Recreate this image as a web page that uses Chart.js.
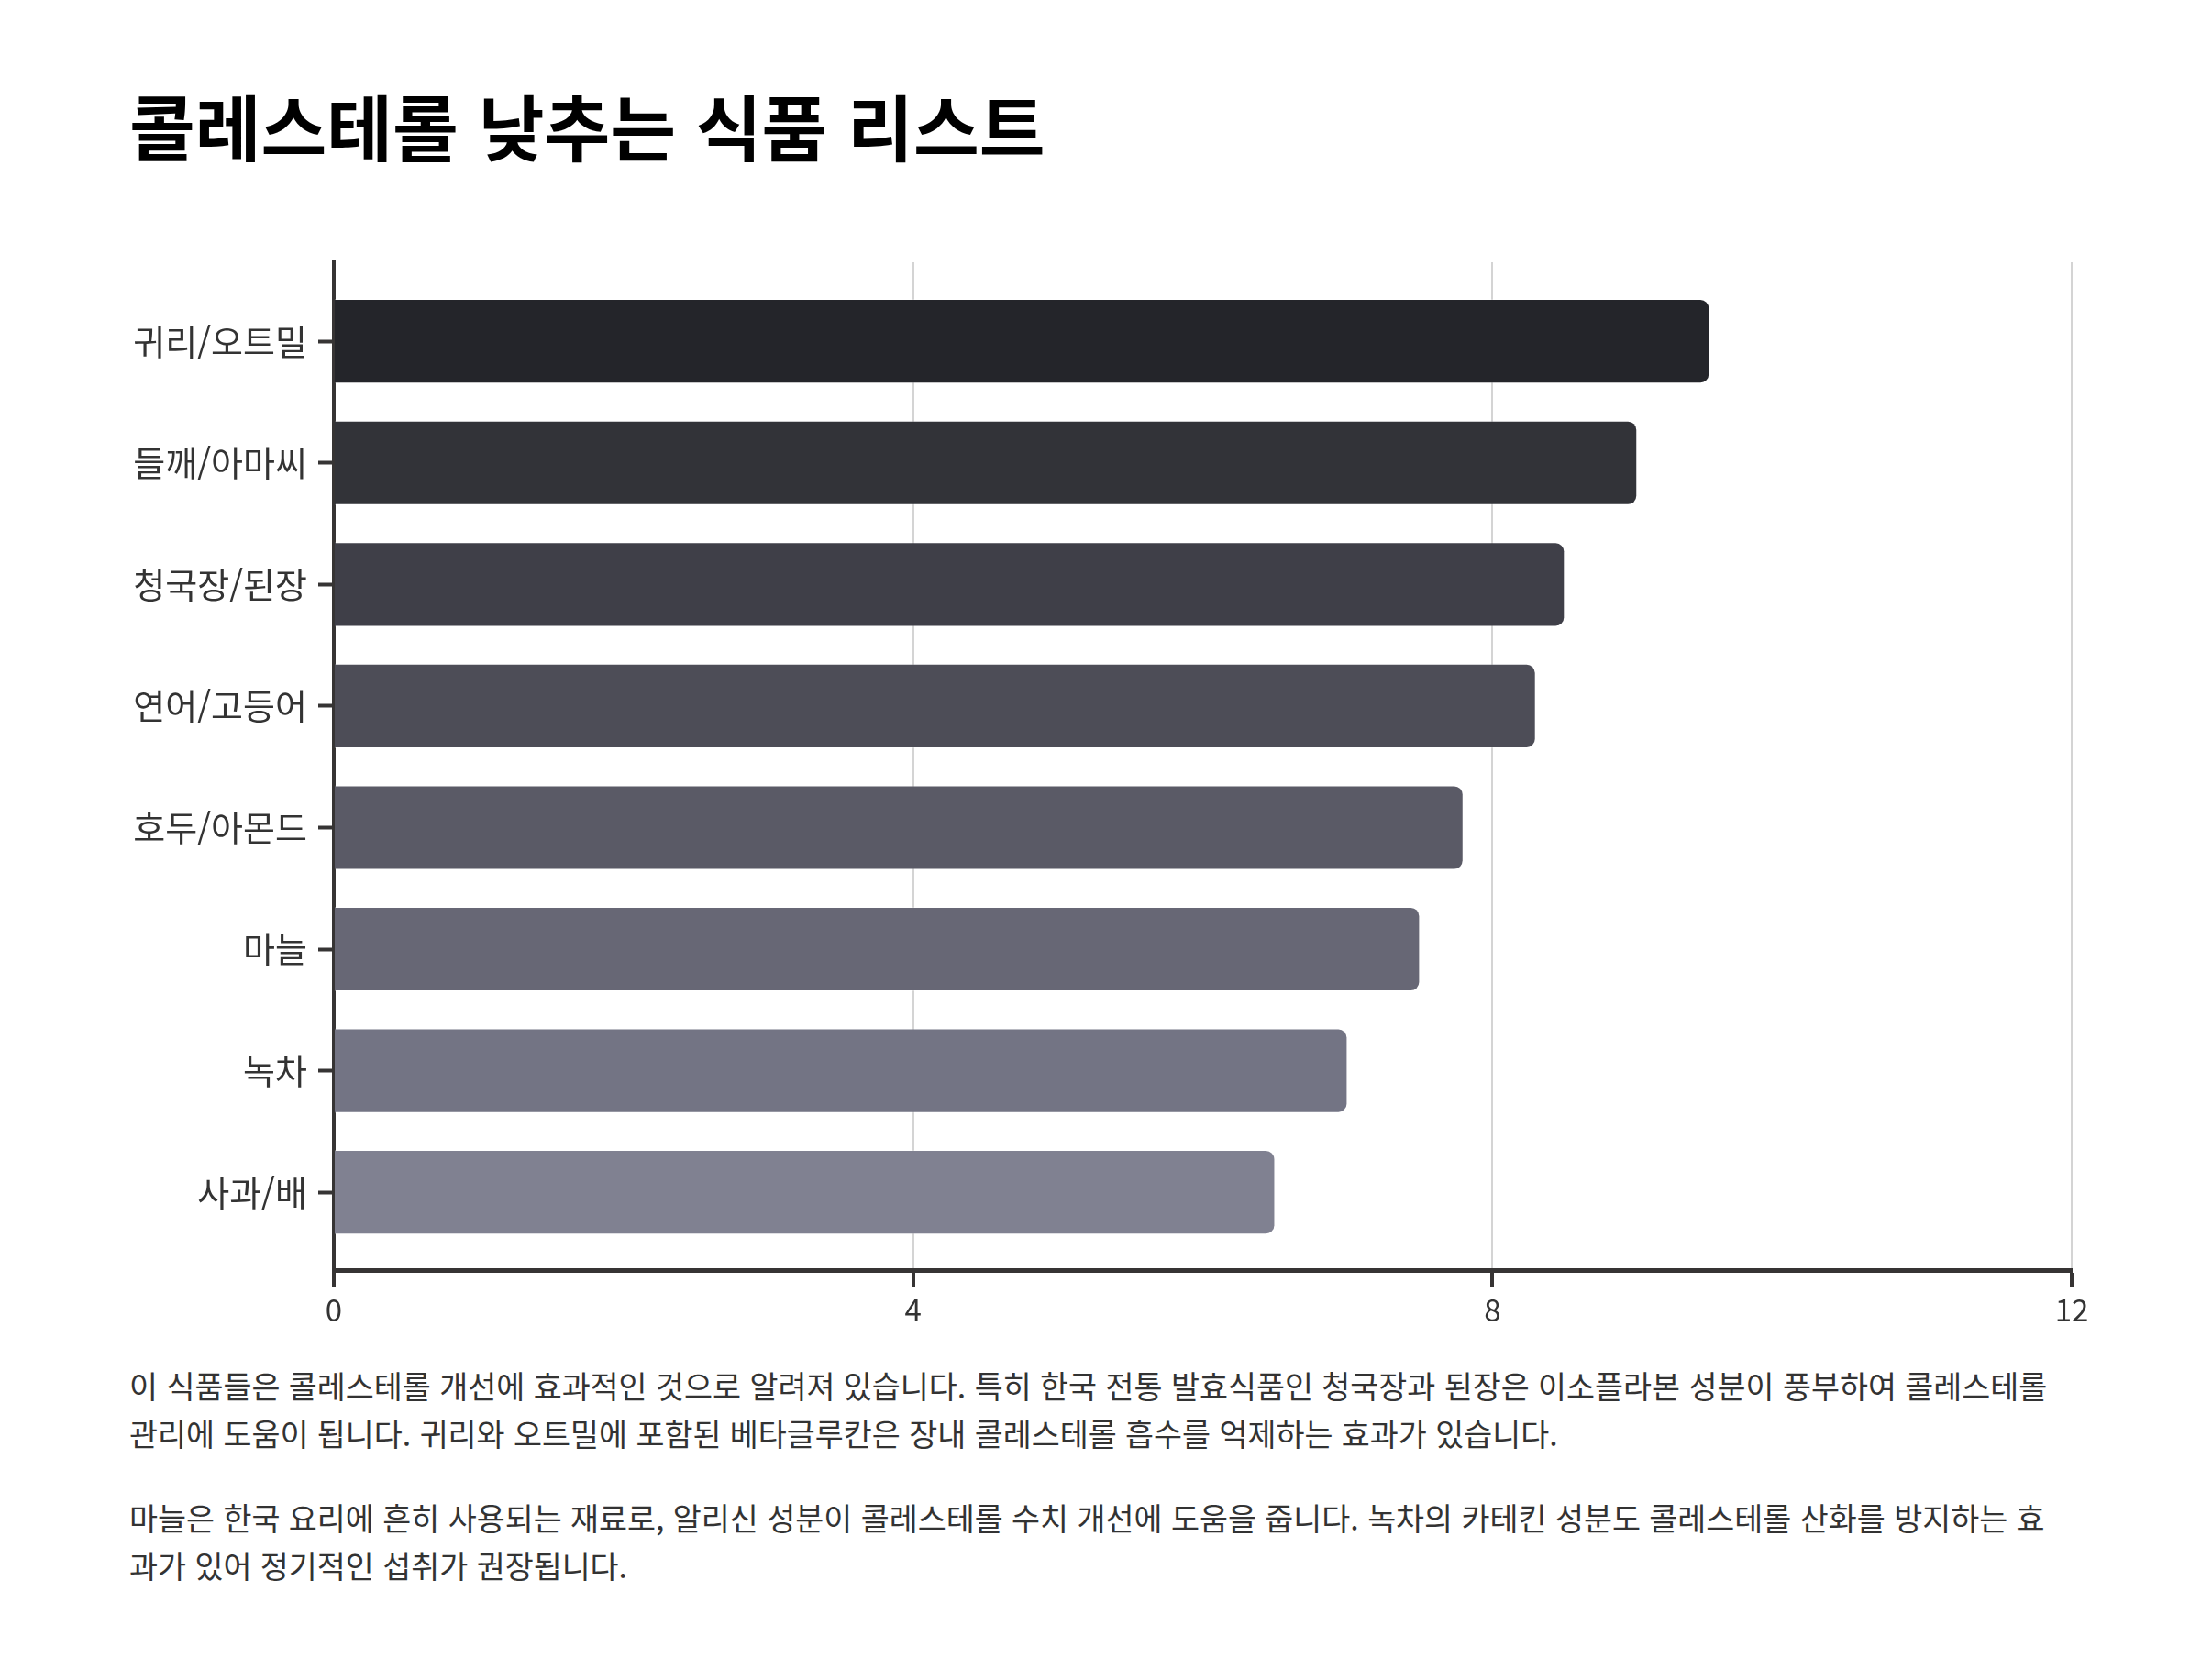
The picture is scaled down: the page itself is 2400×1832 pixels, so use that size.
<!DOCTYPE html>
<html lang="ko">
<head>
<meta charset="utf-8">
<script src="https://cdn.jsdelivr.net/npm/chart.js@4.4.1/dist/chart.umd.min.js"></script>
<style>
  html, body { margin: 0; padding: 0; background: #ffffff; }
  body { width: 2400px; height: 1832px; position: relative; font-family: "Noto Sans CJK KR", "Noto Sans", sans-serif; }
  h1 { position: absolute; left: 141px; top: 93px; margin: 0; font-size: 78px; line-height: 86px; font-weight: 700; color: #000; white-space: nowrap; }
  #chartBox { position: absolute; left: 0; top: 240px; width: 2400px; height: 1220px; }
  .notes { position: absolute; left: 141px; top: 1485px; width: 2112px; color: #333; font-size: 33.7px; line-height: 52px; }
  .notes p { margin: 0 0 40px 0; }
</style>
</head>
<body>
<h1>콜레스테롤 낮추는 식품 리스트</h1>
<div id="chartBox"><canvas id="foodChart"></canvas></div>
<div class="notes">
  <p>이 식품들은 콜레스테롤 개선에 효과적인 것으로 알려져 있습니다. 특히 한국 전통 발효식품인 청국장과 된장은 이소플라본 성분이 풍부하여 콜레스테롤 관리에 도움이 됩니다. 귀리와 오트밀에 포함된 베타글루칸은 장내 콜레스테롤 흡수를 억제하는 효과가 있습니다.</p>
  <p>마늘은 한국 요리에 흔히 사용되는 재료로, 알리신 성분이 콜레스테롤 수치 개선에 도움을 줍니다. 녹차의 카테킨 성분도 콜레스테롤 산화를 방지하는 효과가 있어 정기적인 섭취가 권장됩니다.</p>
</div>
<script>
// data
const foods = ['귀리/오트밀', '들깨/아마씨', '청국장/된장', '연어/고등어', '호두/아몬드', '마늘', '녹차', '사과/배'];
const scores = [9.5, 9.0, 8.5, 8.3, 7.8, 7.5, 7.0, 6.5];
const xTicks = [0, 4, 8, 12];

// bar colours, dark to light
const barColors = ['#24252a', '#323338', '#3f3f48', '#4d4d57', '#5a5a66', '#676775', '#737484', '#808191'];

const fontFamily = '"Noto Sans CJK KR", "Noto Sans", sans-serif';
const axisColor = '#363434';

function initializeFoodChart() {
    const ctx = document.getElementById('foodChart').getContext('2d');

    const data = {
        datasets: [{
            label: '점수',
            data: scores.map((v, i) => ({ x: v, y: i })),
            backgroundColor: barColors,
            borderColor: 'rgba(255, 255, 255, 0.25)',
            borderWidth: 1,
            borderRadius: 10,
            borderSkipped: 'start',
            categoryPercentage: 1,
            barPercentage: 0.695
        }]
    };

    const options = {
        indexAxis: 'y',
        responsive: true,
        maintainAspectRatio: false,
        animation: false,
        layout: { padding: { top: 46, right: 141, left: 0, bottom: 0 } },
        scales: {
            x: {
                type: 'linear',
                min: 0,
                max: 12,
                afterBuildTicks: (scale) => { scale.ticks = xTicks.map(v => ({ value: v })); },
                afterFit: (scale) => { scale.height = 75; },
                grid: {
                    color: '#d4d4d4',
                    lineWidth: 2,
                    drawTicks: true,
                    tickLength: 18,
                    tickWidth: 4,
                    tickColor: axisColor
                },
                border: { display: true, color: axisColor, width: 5 },
                ticks: {
                    color: '#333',
                    padding: 6,
                    font: { family: fontFamily, size: 33 }
                }
            },
            y: {
                type: 'linear',
                reverse: true,
                offset: false,
                min: -0.65,
                max: foods.length - 1 + 0.64,
                afterBuildTicks: (scale) => { scale.ticks = foods.map((f, i) => ({ value: i })); },
                afterFit: (scale) => { scale.width = 364; },
                grid: {
                    offset: false,
                    drawOnChartArea: false,
                    drawTicks: true,
                    tickLength: 17,
                    tickWidth: 4,
                    tickColor: axisColor
                },
                border: { display: true, color: axisColor, width: 4 },
                ticks: {
                    color: '#333',
                    padding: 12,
                    font: { family: fontFamily, size: 38 },
                    callback: (value) => foods[value]
                }
            }
        },
        plugins: {
            legend: { display: false },
            tooltip: { enabled: false }
        }
    };

    new Chart(ctx, {
        type: 'bar',
        data: data,
        options: options
    });
}

if (document.readyState === 'loading') {
    document.addEventListener('DOMContentLoaded', initializeFoodChart);
} else {
    initializeFoodChart();
}
</script>
</body>
</html>
